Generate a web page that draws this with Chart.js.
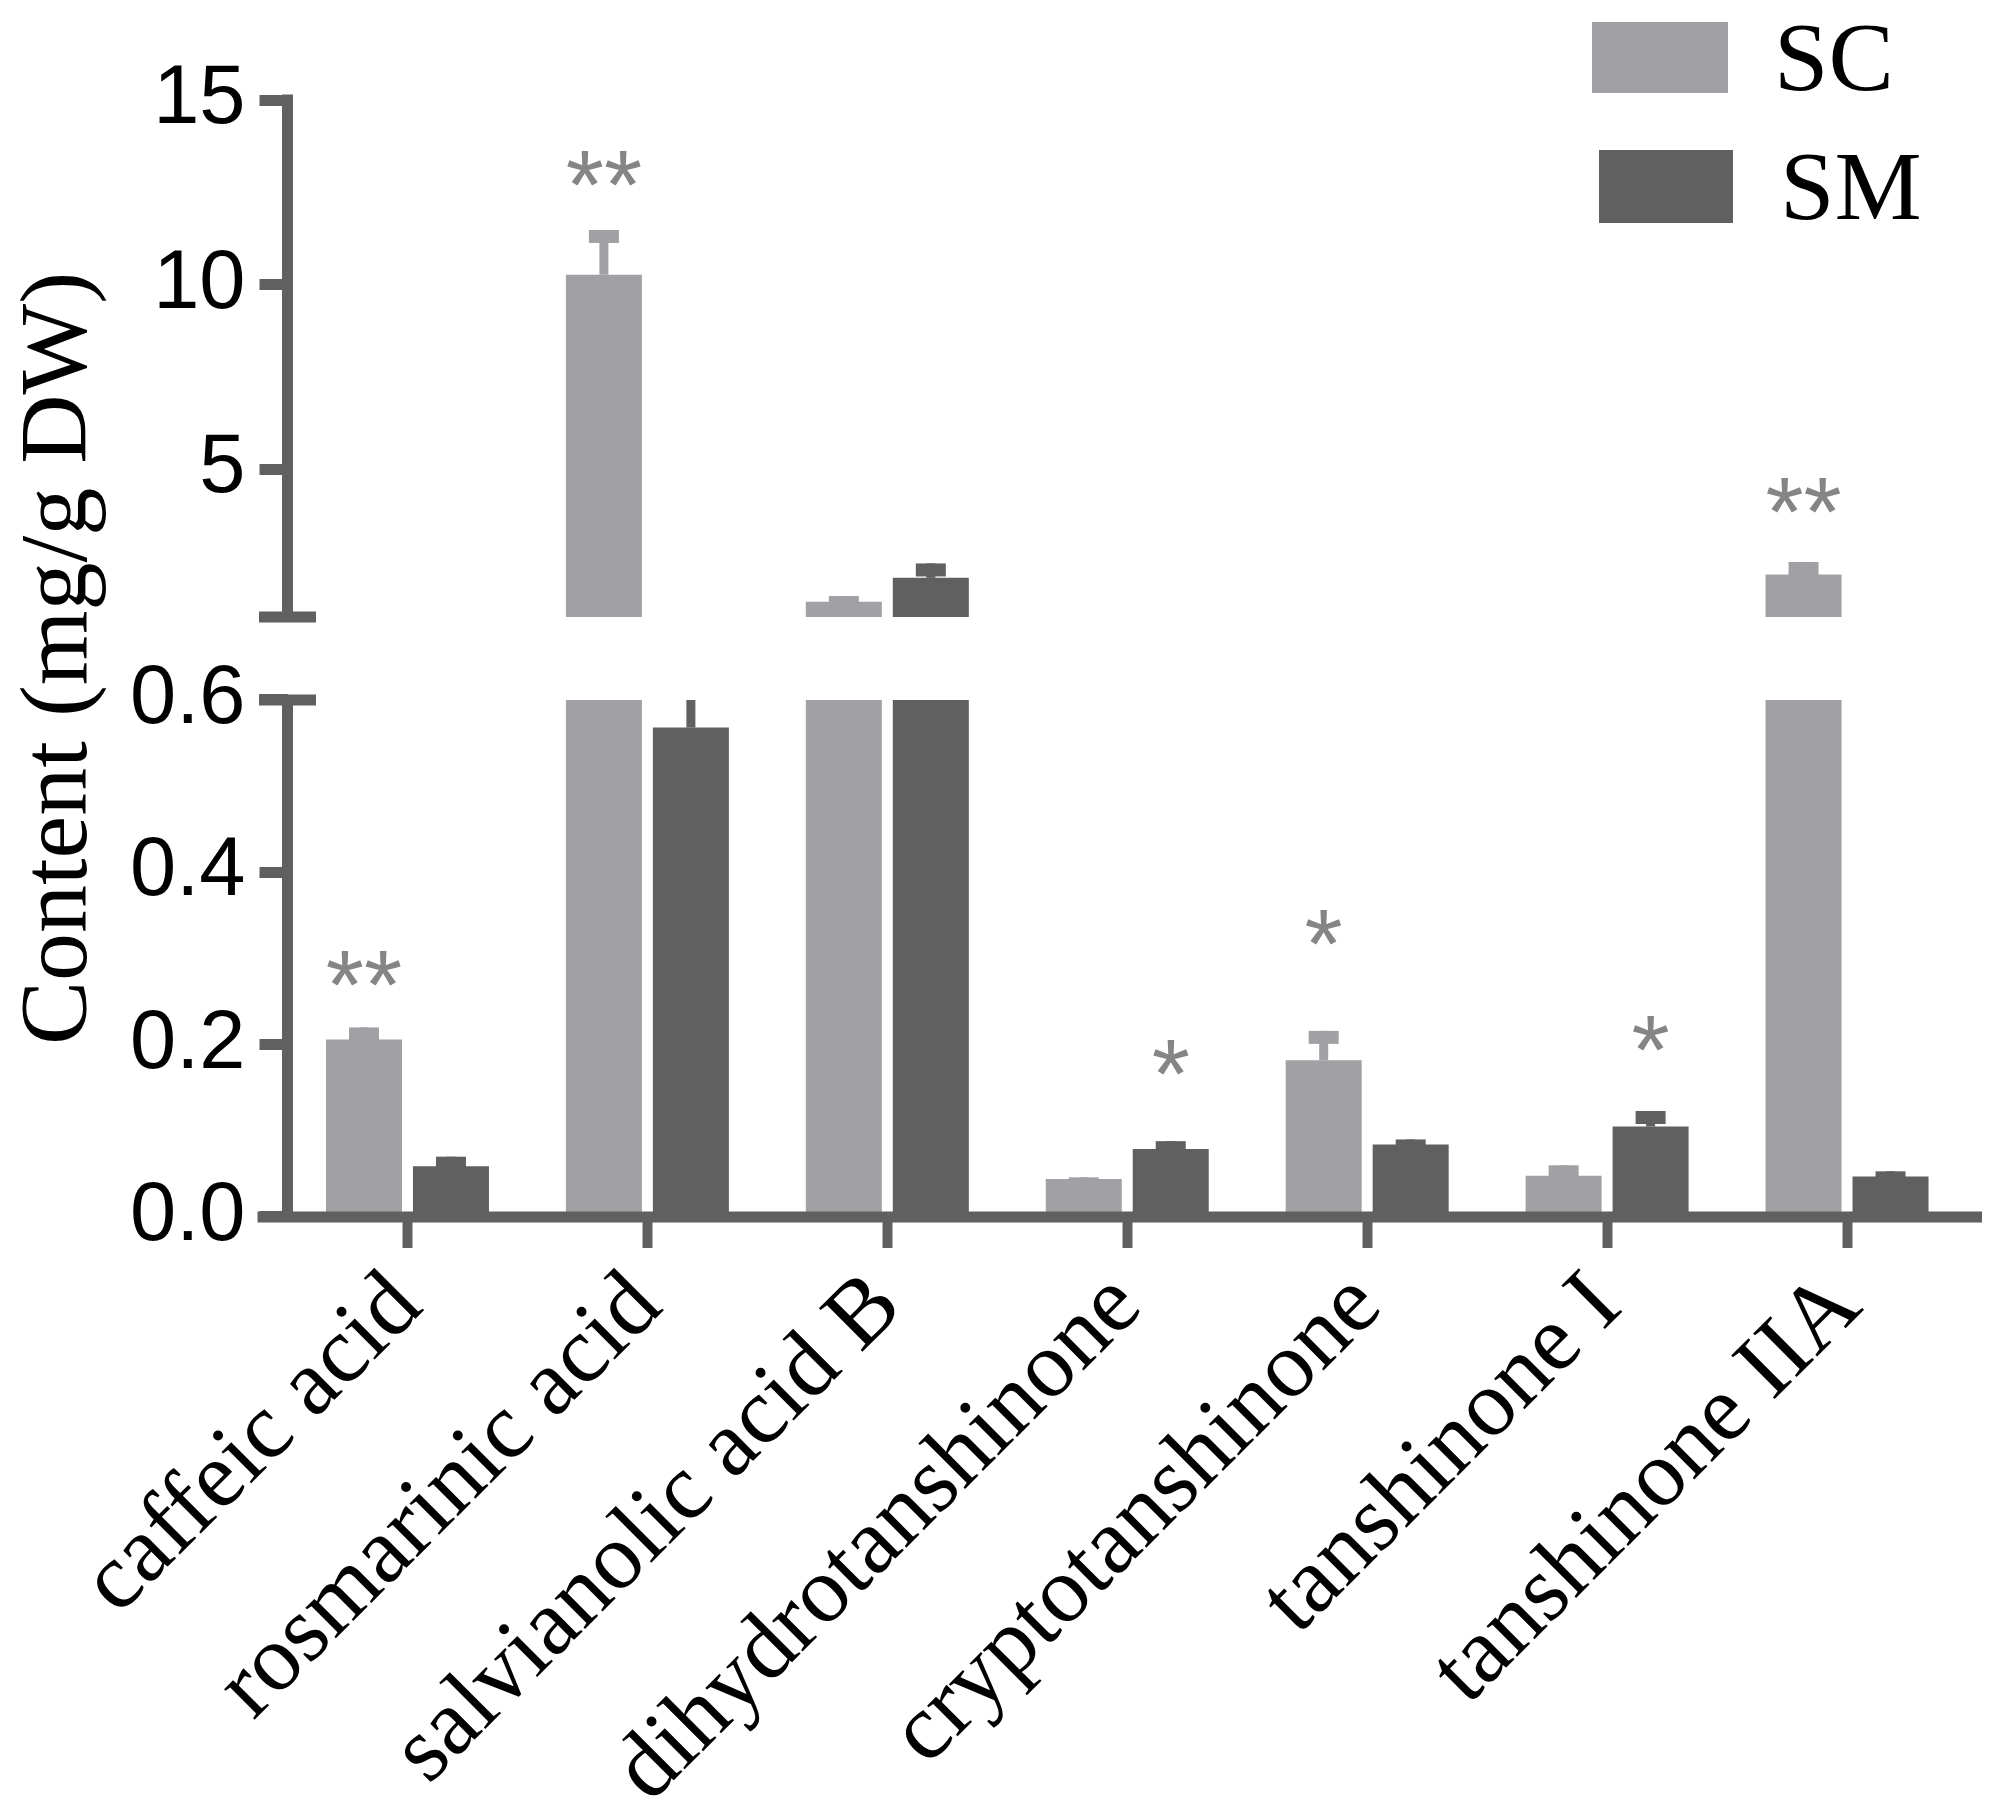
<!DOCTYPE html>
<html>
<head>
<meta charset="utf-8">
<script src="https://cdn.jsdelivr.net/npm/chart.js@4/dist/chart.umd.min.js"></script>
<style>
html,body{margin:0;padding:0;background:#ffffff;}
canvas{display:block;}
</style>
</head>
<body>
<canvas id="c" width="1994" height="1807"></canvas>
<script>
// ---------------- data ----------------
const categories = ['caffeic acid', 'rosmarinic acid', 'salvianolic acid B', 'dihydrotanshinone', 'cryptotanshinone', 'tanshinone I', 'tanshinone IIA'];
const seriesNames = ['SC', 'SM'];
const scValues = [0.206, 10.27, 1.41, 0.044, 0.182, 0.048, 2.15];
const scErrors = [0.014, 1.21, 0.157, 0.002, 0.034, 0.012, 0.34];
const smValues = [0.059, 0.568, 2.06, 0.079, 0.084, 0.105, 0.047];
const smErrors = [0.011, 0.06, 0.39, 0.009, 0.006, 0.018, 0.006];
const upperTicks = [5, 10, 15];
const lowerTicks = [0, 0.2, 0.4, 0.6];
const upperRange = [1, 15];
const lowerRange = [0, 0.6];
const sigMarks = ['**', '**', '', '*', '*', '*', '**'];
const sigSeries = [0, 0, null, 1, 0, 1, 0];
const sigLevels = [0.295, 13.29, null, 0.191, 0.342, 0.219, 4.43];
const yTitle = 'Content (mg/g DW)';

// ---------------- style ----------------
const colors = ['#a1a1a5', '#606060'];
const axisColor = '#606060';
const axisWidth = 11;
const gapRatio = 83 / 517;   // break gap relative to a segment height
const serif = "'Liberation Serif', 'Times New Roman', serif";
const sans = "'Liberation Sans', Arial, sans-serif";

const valuesBySeries = [scValues, smValues];
const errorsBySeries = [scErrors, smErrors];

const datasets = [];
['yLow', 'yHigh'].forEach(axisId => {
  seriesNames.forEach((name, s) => {
    datasets.push({
      label: name,
      data: valuesBySeries[s],
      errors: errorsBySeries[s],
      yAxisID: axisId,
      stack: name,
      backgroundColor: colors[s],
      borderWidth: 0,
      categoryPercentage: 0.725,
      barPercentage: 0.874
    });
  });
});

const brokenAxisPlugin = {
  id: 'brokenAxis',
  beforeDatasetDraw(chart, args) {
    const ys = chart.scales[args.meta.yAxisID];
    const ctx = chart.ctx;
    let top, bottom;
    if (ys.id === 'yHigh') {
      top = 0;
      bottom = ys.getPixelForValue(upperRange[0]);
    } else {
      top = ys.getPixelForValue(lowerRange[1]);
      bottom = ys.getPixelForValue(lowerRange[0]);
    }
    ctx.save();
    ctx.beginPath();
    ctx.rect(0, top, chart.width, bottom - top);
    ctx.clip();
  },
  afterDatasetDraw(chart, args) {
    const ctx = chart.ctx;
    const meta = args.meta;
    const ys = chart.scales[meta.yAxisID];
    const ds = chart.data.datasets[args.index];
    ctx.fillStyle = ds.backgroundColor;
    meta.data.forEach((bar, i) => {
      const v = ds.data[i], e = ds.errors[i];
      if (!e) return;
      const yTop = ys.getPixelForValue(v + e);
      const yBar = ys.getPixelForValue(v);
      ctx.fillRect(bar.x - 4.5, yTop, 9, yBar - yTop);
      ctx.fillRect(bar.x - 15, yTop, 30, 13);
    });
    ctx.restore();
  },
  afterDatasetsDraw(chart) {
    const ctx = chart.ctx;
    const area = chart.chartArea;
    const yH = chart.scales.yHigh, yL = chart.scales.yLow;
    const x0 = area.left;
    const half = axisWidth / 2;
    ctx.save();
    ctx.strokeStyle = axisColor;
    ctx.lineWidth = axisWidth;
    ctx.lineCap = 'butt';
    // upper segment
    const uTop = yH.getPixelForValue(upperRange[1]);
    const uBot = yH.getPixelForValue(upperRange[0]);
    ctx.beginPath();
    ctx.moveTo(x0, uTop - half); ctx.lineTo(x0, uBot + half);
    ctx.moveTo(x0 - 28.5, uBot); ctx.lineTo(x0 + 28.5, uBot);
    // lower segment
    const lTop = yL.getPixelForValue(lowerRange[1]);
    const lBot = yL.getPixelForValue(lowerRange[0]);
    ctx.moveTo(x0, lTop - half); ctx.lineTo(x0, lBot);
    ctx.moveTo(x0 - 28.5, lTop); ctx.lineTo(x0 + 28.5, lTop);
    // x axis
    ctx.moveTo(x0 - 30, lBot); ctx.lineTo(area.right + 15, lBot);
    ctx.stroke();

    // significance marks
    const fs = 98;
    ctx.font = fs + 'px ' + sans;
    ctx.fillStyle = '#858585';
    ctx.textAlign = 'center';
    ctx.textBaseline = 'alphabetic';
    sigMarks.forEach((m, i) => {
      if (!m) return;
      const level = sigLevels[i];
      const scale = level >= upperRange[0] ? yH : yL;
      const bar = chart.getDatasetMeta(sigSeries[i]).data[i];
      const y = scale.getPixelForValue(level);
      ctx.fillText(m, bar.x, y + 0.57 * fs);
    });

    // y title
    ctx.fillStyle = '#000000';
    ctx.font = '96px ' + serif;
    ctx.textAlign = 'center';
    ctx.textBaseline = 'middle';
    ctx.translate(61, (area.top + area.bottom) / 2);
    ctx.rotate(-Math.PI / 2);
    ctx.fillText(yTitle, 0, 0);
    ctx.restore();

    // legend
    ctx.save();
    const boxes = [[1592, 22, 136, 71], [1599, 150, 134, 73]];
    const textX = [1774, 1780];
    const lfs = 98;
    ctx.font = lfs + 'px ' + serif;
    ctx.textAlign = 'left';
    ctx.textBaseline = 'alphabetic';
    seriesNames.forEach((name, s) => {
      const b = boxes[s];
      ctx.fillStyle = colors[s];
      ctx.fillRect(b[0], b[1], b[2], b[3]);
      ctx.fillStyle = '#000000';
      ctx.fillText(name, textX[s], b[1] + b[3] / 2 + 0.331 * lfs);
    });
    ctx.restore();
  }
};

const yCommon = {
  type: 'linear',
  position: 'left',
  stack: 'yaxis',
  stacked: false,
  border: { display: false },
  grid: { display: true, drawOnChartArea: false, drawTicks: true, tickLength: 28, tickWidth: axisWidth, tickColor: axisColor },
  ticks: { color: '#000000', font: { family: sans, size: 83 }, padding: 14, autoSkip: false },
  afterFit: (scale) => { scale.width = 287.5; }
};

new Chart(document.getElementById('c'), {
  type: 'bar',
  data: { labels: categories, datasets: datasets },
  options: {
    responsive: false,
    devicePixelRatio: 1,
    animation: false,
    layout: { padding: { left: 0, right: 27, top: 100, bottom: 0 } },
    plugins: { legend: { display: false }, tooltip: { enabled: false } },
    scales: {
      x: {
        type: 'category',
        border: { display: false },
        grid: { display: true, offset: false, drawOnChartArea: false, drawTicks: true, tickLength: 31, tickWidth: 10, tickColor: axisColor },
        ticks: { color: '#000000', font: { family: serif, size: 94 }, minRotation: 45, maxRotation: 45, autoSkip: false, padding: 4 },
        afterFit: (scale) => { scale.height = 590; }
      },
      yLow: Object.assign({}, yCommon, {
        min: lowerRange[0],
        max: lowerRange[1] * (1 + gapRatio),
        stackWeight: 1 + gapRatio,
        weight: 1,
        afterBuildTicks: (scale) => { scale.ticks = lowerTicks.map(v => ({ value: v })); },
        ticks: Object.assign({}, yCommon.ticks, { callback: (v) => Number(v).toFixed(1) })
      }),
      yHigh: Object.assign({}, yCommon, {
        min: upperRange[0],
        max: upperRange[1],
        stackWeight: 1,
        weight: 2,
        afterBuildTicks: (scale) => { scale.ticks = upperTicks.map(v => ({ value: v })); },
        ticks: Object.assign({}, yCommon.ticks, { callback: (v) => String(v) })
      })
    }
  },
  plugins: [brokenAxisPlugin]
});
</script>
</body>
</html>
